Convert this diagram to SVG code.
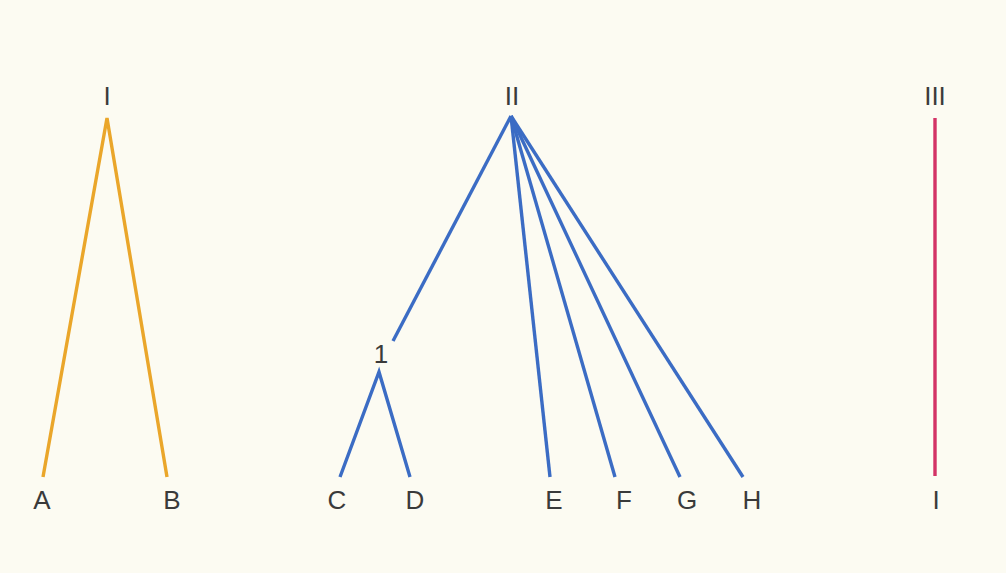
<svg xmlns="http://www.w3.org/2000/svg" width="1006" height="573" viewBox="0 0 1006 573">
<style>
.lbl{font-family:"Liberation Sans",Arial,sans-serif;font-size:26px;fill:#3a3a3a;text-anchor:middle}
.c{fill:none;stroke-width:3.4;stroke-linejoin:miter;stroke-linecap:butt}
.o{stroke:#eaa62a}
.b{stroke:#3b6cc4}
.r{stroke:#d33366}
</style>
<rect width="1006" height="573" fill="#fcfbf2"/>
<g id="connectors">
<path class="c o" d="M43,477 L107,118 L167,477"/>
<path class="c b" d="M393,341 L511,116"/>
<path class="c b" d="M511,116 L550,477"/>
<path class="c b" d="M511,116 L615,477"/>
<path class="c b" d="M511,116 L680,477"/>
<path class="c b" d="M511,116 L743,477"/>
<path class="c b" d="M340,477 L379,372 L410,477"/>
<path class="c r" d="M935,118 L935,476"/>
</g>
<g id="node-I"><text class="lbl" x="107" y="105">I</text></g>
<g id="node-II"><text class="lbl" x="512" y="105">II</text></g>
<g id="node-III"><text class="lbl" x="935" y="105">III</text></g>
<g id="node-1"><text class="lbl" x="381" y="363">1</text></g>
<g id="node-A"><text class="lbl" x="42" y="509">A</text></g>
<g id="node-B"><text class="lbl" x="172" y="509">B</text></g>
<g id="node-C"><text class="lbl" x="337" y="509">C</text></g>
<g id="node-D"><text class="lbl" x="415" y="509">D</text></g>
<g id="node-E"><text class="lbl" x="554" y="509">E</text></g>
<g id="node-F"><text class="lbl" x="624" y="509">F</text></g>
<g id="node-G"><text class="lbl" x="687" y="509">G</text></g>
<g id="node-H"><text class="lbl" x="752" y="509">H</text></g>
<g id="node-I2"><text class="lbl" x="936" y="509">I</text></g>
</svg>
